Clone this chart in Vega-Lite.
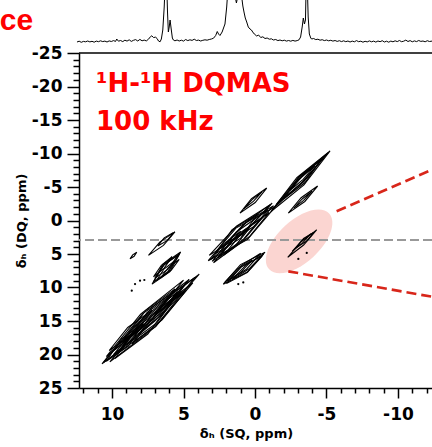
{
  "$schema": "https://vega.github.io/schema/vega-lite/v6.json",
  "autosize": "none",
  "width": 353,
  "height": 335,
  "padding": {"left": 79, "top": 53, "right": 0, "bottom": 59},
  "background": "white",
  "config": {
    "view": {"stroke": null},
    "axis": {
      "domainColor": "black", "domainWidth": 1.5, "tickColor": "black", "tickWidth": 1.5,
      "labelColor": "black", "labelFont": "DejaVu Sans", "labelFontWeight": "bold", "labelFontSize": 17,
      "titleColor": "black", "titleFont": "DejaVu Sans", "titleFontWeight": "bold", "titleFontSize": 13,
      "grid": false, "labelOverlap": false, "labelFlush": false
    }
  },
  "datasets": {
    "ellipse": [{"x": -3.09, "y": 3.11}],
    "hline": [{"y": 2.9}],
    "frame": [{"y": -25}],
    "contours": [
      {"c":"1a","o":0,"x":10.6,"y":21.2},{"c":"1a","o":1,"x":6.95,"y":15.81},{"c":"1a","o":2,"x":4.2,"y":8.5},{"c":"1a","o":3,"x":7.85,"y":13.89},
      {"c":"1b","o":0,"x":10.15,"y":21.1},{"c":"1b","o":1,"x":6.95,"y":15.84},{"c":"1b","o":2,"x":4.35,"y":9.3},{"c":"1b","o":3,"x":7.55,"y":14.56},
      {"c":"1c","o":0,"x":10.4,"y":20.3},{"c":"1c","o":1,"x":7.4,"y":15.24},{"c":"1c","o":2,"x":5.0,"y":8.9},{"c":"1c","o":3,"x":8.0,"y":13.96},
      {"c":"1d","o":0,"x":9.9,"y":20.0},{"c":"1d","o":1,"x":7.45,"y":15.73},{"c":"1d","o":2,"x":5.4,"y":10.6},{"c":"1d","o":3,"x":7.85,"y":14.87},
      {"c":"1e","o":0,"x":9.5,"y":19.4},{"c":"1e","o":1,"x":6.85,"y":15.25},{"c":"1e","o":2,"x":4.9,"y":9.6},{"c":"1e","o":3,"x":7.55,"y":13.75},
      {"c":"1f","o":0,"x":10.0,"y":19.6},{"c":"1f","o":1,"x":7.85,"y":15.82},{"c":"1f","o":2,"x":6.0,"y":11.4},{"c":"1f","o":3,"x":8.15,"y":15.18},
      {"c":"1g","o":0,"x":9.0,"y":18.6},{"c":"1g","o":1,"x":6.95,"y":14.92},{"c":"1g","o":2,"x":5.2,"y":10.6},{"c":"1g","o":3,"x":7.25,"y":14.28},
      {"c":"1h","o":0,"x":9.2,"y":17.8},{"c":"1h","o":1,"x":7.15,"y":14.54},{"c":"1h","o":2,"x":5.6,"y":10.2},{"c":"1h","o":3,"x":7.65,"y":13.46},
      {"c":"1i","o":0,"x":8.6,"y":18.4},{"c":"1i","o":1,"x":6.5,"y":14.83},{"c":"1i","o":2,"x":4.8,"y":10.4},{"c":"1i","o":3,"x":6.9,"y":13.97},
      {"c":"1j","o":0,"x":10.2,"y":19.4},{"c":"1j","o":1,"x":8.5,"y":16.83},{"c":"1j","o":2,"x":7.2,"y":13.4},{"c":"1j","o":3,"x":8.9,"y":15.97},
      {"c":"1k","o":0,"x":6.0,"y":12.2},{"c":"1k","o":1,"x":4.85,"y":10.31},{"c":"1k","o":2,"x":3.9,"y":8.0},{"c":"1k","o":3,"x":5.05,"y":9.89},
      {"c":"1l","o":0,"x":10.7,"y":21.4},{"c":"1l","o":1,"x":9.53,"y":19.46},{"c":"1l","o":2,"x":8.6,"y":17.0},{"c":"1l","o":3,"x":9.77,"y":18.94},
      {"c":"1m","o":0,"x":9.8,"y":20.6},{"c":"1m","o":1,"x":7.5,"y":16.94},{"c":"1m","o":2,"x":5.8,"y":12.0},{"c":"1m","o":3,"x":8.1,"y":15.66},
      {"c":"1n","o":0,"x":9.3,"y":18.2},{"c":"1n","o":1,"x":6.7,"y":14.04},{"c":"1n","o":2,"x":4.6,"y":8.8},{"c":"1n","o":3,"x":7.2,"y":12.96},
      {"c":"1o","o":0,"x":8.2,"y":17.0},{"c":"1o","o":1,"x":6.5,"y":14.01},{"c":"1o","o":2,"x":5.0,"y":10.6},{"c":"1o","o":3,"x":6.7,"y":13.59},
      {"c":"1p","o":0,"x":10.4,"y":21.0},{"c":"1p","o":1,"x":8.85,"y":18.74},{"c":"1p","o":2,"x":7.8,"y":15.4},{"c":"1p","o":3,"x":9.35,"y":17.66},
      {"c":"7a","o":0,"x":7.2,"y":9.5},{"c":"7a","o":1,"x":5.95,"y":7.64},{"c":"7a","o":2,"x":5.2,"y":4.7},{"c":"7a","o":3,"x":6.45,"y":6.56},
      {"c":"7b","o":0,"x":7.0,"y":8.6},{"c":"7b","o":1,"x":6.05,"y":7.22},{"c":"7b","o":2,"x":5.4,"y":5.2},{"c":"7b","o":3,"x":6.35,"y":6.58},
      {"c":"7c","o":0,"x":6.9,"y":9.0},{"c":"7c","o":1,"x":6.13,"y":7.76},{"c":"7c","o":2,"x":5.6,"y":6.0},{"c":"7c","o":3,"x":6.37,"y":7.24},
      {"c":"7d","o":0,"x":7.1,"y":8.4},{"c":"7d","o":1,"x":6.35,"y":7.11},{"c":"7d","o":2,"x":5.8,"y":5.4},{"c":"7d","o":3,"x":6.55,"y":6.69},
      {"c":"7e","o":0,"x":6.6,"y":8.6},{"c":"7e","o":1,"x":5.85,"y":7.41},{"c":"7e","o":2,"x":5.3,"y":5.8},{"c":"7e","o":3,"x":6.05,"y":6.99},
      {"c":"7f","o":0,"x":7.1,"y":9.2},{"c":"7f","o":1,"x":6.0,"y":7.53},{"c":"7f","o":2,"x":5.3,"y":5.0},{"c":"7f","o":3,"x":6.4,"y":6.67},
      {"c":"8a","o":0,"x":7.45,"y":5.2},{"c":"8a","o":1,"x":6.405,"y":3.71},{"c":"8a","o":2,"x":5.6,"y":1.7},{"c":"8a","o":3,"x":6.645,"y":3.19},
      {"c":"8b","o":0,"x":6.8,"y":3.8},{"c":"8b","o":1,"x":6.15,"y":3.01},{"c":"8b","o":2,"x":5.7,"y":1.8},{"c":"8b","o":3,"x":6.35,"y":2.59},
      {"c":"9","o":0,"x":8.74,"y":5.73},{"c":"9","o":1,"x":8.455,"y":5.34},{"c":"9","o":2,"x":8.27,"y":4.74},{"c":"9","o":3,"x":8.555,"y":5.13},
      {"c":"2a","o":0,"x":3.27,"y":6.0},{"c":"2a","o":1,"x":0.535,"y":2.86},{"c":"2a","o":2,"x":-1.4,"y":-2.0},{"c":"2a","o":3,"x":1.335,"y":1.14},
      {"c":"2b","o":0,"x":3.0,"y":6.1},{"c":"2b","o":1,"x":0.8,"y":2.79},{"c":"2b","o":2,"x":-0.9,"y":-1.6},{"c":"2b","o":3,"x":1.3,"y":1.71},
      {"c":"2c","o":0,"x":3.2,"y":5.2},{"c":"2c","o":1,"x":0.8,"y":1.94},{"c":"2c","o":2,"x":-1.1,"y":-2.4},{"c":"2c","o":3,"x":1.3,"y":0.86},
      {"c":"2d","o":0,"x":2.6,"y":5.6},{"c":"2d","o":1,"x":0.8,"y":2.93},{"c":"2d","o":2,"x":-0.6,"y":-0.6},{"c":"2d","o":3,"x":1.2,"y":2.07},
      {"c":"2e","o":0,"x":2.4,"y":4.2},{"c":"2e","o":1,"x":0.45,"y":1.12},{"c":"2e","o":2,"x":-1.2,"y":-2.6},{"c":"2e","o":3,"x":0.75,"y":0.48},
      {"c":"2f","o":0,"x":2.9,"y":6.3},{"c":"2f","o":1,"x":1.5,"y":4.07},{"c":"2f","o":2,"x":0.4,"y":1.2},{"c":"2f","o":3,"x":1.8,"y":3.43},
      {"c":"2g","o":0,"x":1.9,"y":3.2},{"c":"2g","o":1,"x":0.1,"y":0.93},{"c":"2g","o":2,"x":-1.3,"y":-2.2},{"c":"2g","o":3,"x":0.5,"y":0.07},
      {"c":"2h","o":0,"x":3.1,"y":5.8},{"c":"2h","o":1,"x":1.93,"y":3.96},{"c":"2h","o":2,"x":1.0,"y":1.6},{"c":"2h","o":3,"x":2.17,"y":3.44},
      {"c":"2i","o":0,"x":2.8,"y":5.0},{"c":"2i","o":1,"x":1.0,"y":2.64},{"c":"2i","o":2,"x":-0.2,"y":-1.0},{"c":"2i","o":3,"x":1.6,"y":1.36},
      {"c":"2j","o":0,"x":2.2,"y":5.2},{"c":"2j","o":1,"x":0.4,"y":2.43},{"c":"2j","o":2,"x":-1.0,"y":-1.2},{"c":"2j","o":3,"x":0.8,"y":1.57},
      {"c":"3a","o":0,"x":-1.1,"y":-1.3},{"c":"3a","o":1,"x":-3.425,"y":-5.315},{"c":"3a","o":2,"x":-5.25,"y":-10.4},{"c":"3a","o":3,"x":-2.925,"y":-6.385},
      {"c":"3b","o":0,"x":-1.8,"y":-3.0},{"c":"3b","o":1,"x":-3.43,"y":-5.92},{"c":"3b","o":2,"x":-4.8,"y":-9.4},{"c":"3b","o":3,"x":-3.17,"y":-6.48},
      {"c":"3c","o":0,"x":-2.4,"y":-4.4},{"c":"3c","o":1,"x":-3.37,"y":-6.15},{"c":"3c","o":2,"x":-4.2,"y":-8.2},{"c":"3c","o":3,"x":-3.23,"y":-6.45},
      {"c":"3d","o":0,"x":-1.5,"y":-2.4},{"c":"3d","o":1,"x":-3.42,"y":-5.79},{"c":"3d","o":2,"x":-5.0,"y":-9.9},{"c":"3d","o":3,"x":-3.08,"y":-6.51},
      {"c":"3e","o":0,"x":-1.3,"y":-1.8},{"c":"3e","o":1,"x":-3.3,"y":-5.74},{"c":"3e","o":2,"x":-5.1,"y":-10.1},{"c":"3e","o":3,"x":-3.1,"y":-6.16},
      {"c":"3f","o":0,"x":-2.0,"y":-3.2},{"c":"3f","o":1,"x":-3.5,"y":-5.67},{"c":"3f","o":2,"x":-4.6,"y":-9.0},{"c":"3f","o":3,"x":-3.1,"y":-6.53},
      {"c":"4a","o":0,"x":1.05,"y":-1.1},{"c":"4a","o":1,"x":-0.015,"y":-2.69},{"c":"4a","o":2,"x":-0.82,"y":-4.84},{"c":"4a","o":3,"x":0.245,"y":-3.25},
      {"c":"4b","o":0,"x":0.8,"y":-1.7},{"c":"4b","o":1,"x":0.1,"y":-2.89},{"c":"4b","o":2,"x":-0.5,"y":-4.3},{"c":"4b","o":3,"x":0.2,"y":-3.11},
      {"c":"5a","o":0,"x":-2.33,"y":-1.1},{"c":"5a","o":1,"x":-3.485,"y":-2.84},{"c":"5a","o":2,"x":-4.38,"y":-5.14},{"c":"5a","o":3,"x":-3.225,"y":-3.4},
      {"c":"5b","o":0,"x":-2.7,"y":-1.8},{"c":"5b","o":1,"x":-3.4,"y":-2.99},{"c":"5b","o":2,"x":-4.0,"y":-4.4},{"c":"5b","o":3,"x":-3.3,"y":-3.21},
      {"c":"6a","o":0,"x":2.22,"y":9.5},{"c":"6a","o":1,"x":0.51,"y":7.66},{"c":"6a","o":2,"x":-0.7,"y":4.74},{"c":"6a","o":3,"x":1.01,"y":6.58},
      {"c":"6b","o":0,"x":1.9,"y":9.0},{"c":"6b","o":1,"x":0.6,"y":7.27},{"c":"6b","o":2,"x":-0.4,"y":4.9},{"c":"6b","o":3,"x":0.9,"y":6.63},
      {"c":"6c","o":0,"x":1.6,"y":8.8},{"c":"6c","o":1,"x":0.38,"y":7.16},{"c":"6c","o":2,"x":-0.6,"y":5.0},{"c":"6c","o":3,"x":0.62,"y":6.64},
      {"c":"6d","o":0,"x":2.1,"y":9.2},{"c":"6d","o":1,"x":1.03,"y":7.81},{"c":"6d","o":2,"x":0.2,"y":5.9},{"c":"6d","o":3,"x":1.27,"y":7.29},
      {"c":"6e","o":0,"x":2.0,"y":9.4},{"c":"6e","o":1,"x":0.55,"y":7.78},{"c":"6e","o":2,"x":-0.5,"y":5.3},{"c":"6e","o":3,"x":0.95,"y":6.92},
      {"c":"11a","o":0,"x":-2.29,"y":5.49},{"c":"11a","o":1,"x":-3.4,"y":3.66},{"c":"11a","o":2,"x":-4.31,"y":1.4},{"c":"11a","o":3,"x":-3.2,"y":3.23},
      {"c":"11b","o":0,"x":-2.9,"y":4.0},{"c":"11b","o":1,"x":-3.6,"y":3.11},{"c":"11b","o":2,"x":-4.1,"y":1.8},{"c":"11b","o":3,"x":-3.4,"y":2.69},
      {"c":"11c","o":0,"x":-2.6,"y":4.6},{"c":"11c","o":1,"x":-3.3,"y":3.41},{"c":"11c","o":2,"x":-3.9,"y":2.0},{"c":"11c","o":3,"x":-3.2,"y":3.19}
    ],
    "dots": [
      {"x":8.62,"y":10.48},{"x":8.39,"y":9.48},{"x":8.04,"y":8.98},{"x":7.74,"y":8.88},
      {"x":1.17,"y":9.48},{"x":0.82,"y":9.24},{"x":-3.62,"y":4.84},{"x":-3.03,"y":5.74}
    ],
    "guides": [
      {"g":"u","x":-5.71,"y":-1.39},{"g":"u","x":-12.38,"y":-7.59},
      {"g":"l","x":-2.33,"y":7.59},{"g":"l","x":-12.38,"y":11.38}
    ],
    "heading": [
      {"t":"¹H-¹H DQMAS","x":11.12,"y":-19.16},
      {"t":"100 kHz","x":11.12,"y":-13.47}
    ],
    "corner": [{"t":"ce","x":15.52,"y":-28.44}],
    "spectrum": [
      {"x":12.45,"v":0},{"x":12.3,"v":0.8},{"x":12.15,"v":-0.3},{"x":12.0,"v":0.6},{"x":11.85,"v":0.2},{"x":11.7,"v":1.0},
      {"x":11.55,"v":0.1},{"x":11.4,"v":0.7},{"x":11.25,"v":-0.2},{"x":11.1,"v":0.9},{"x":10.95,"v":0.3},{"x":10.8,"v":1.2},
      {"x":10.65,"v":0.4},{"x":10.5,"v":0.9},{"x":10.35,"v":0.0},{"x":10.2,"v":1.1},{"x":10.05,"v":0.5},{"x":9.9,"v":1.4},
      {"x":9.75,"v":0.6},{"x":9.67,"v":3.0},{"x":9.55,"v":0.8},{"x":9.4,"v":1.5},{"x":9.25,"v":0.4},{"x":9.1,"v":1.8},
      {"x":8.95,"v":0.9},{"x":8.8,"v":2.2},{"x":8.65,"v":0.6},{"x":8.5,"v":1.7},{"x":8.35,"v":2.4},{"x":8.2,"v":1.0},
      {"x":8.05,"v":2.6},{"x":7.9,"v":1.2},{"x":7.75,"v":1.9},{"x":7.6,"v":1.1},{"x":7.45,"v":2.8},{"x":7.3,"v":5.5},
      {"x":7.22,"v":6.2},{"x":7.1,"v":4.5},{"x":6.95,"v":4.8},{"x":6.85,"v":3.5},{"x":6.75,"v":1.0},{"x":6.64,"v":0.2},
      {"x":6.55,"v":3},{"x":6.45,"v":12},{"x":6.35,"v":35},{"x":6.22,"v":80},{"x":6.12,"v":30},{"x":6.06,"v":10},
      {"x":6.0,"v":15},{"x":5.94,"v":22},{"x":5.87,"v":14},{"x":5.78,"v":4},{"x":5.71,"v":2},{"x":5.6,"v":1.2},
      {"x":5.45,"v":2.0},{"x":5.3,"v":1.0},{"x":5.15,"v":1.8},{"x":5.0,"v":0.9},{"x":4.85,"v":2.5},{"x":4.7,"v":1.4},
      {"x":4.55,"v":2.2},{"x":4.4,"v":1.6},{"x":4.25,"v":2.8},{"x":4.1,"v":1.5},{"x":3.95,"v":1.9},{"x":3.8,"v":1.0},
      {"x":3.65,"v":1.7},{"x":3.5,"v":2.2},{"x":3.35,"v":1.8},{"x":3.2,"v":2.5},{"x":3.05,"v":3.0},{"x":2.9,"v":3.8},
      {"x":2.75,"v":6.5},{"x":2.64,"v":10.5},{"x":2.55,"v":8},{"x":2.45,"v":6.5},{"x":2.3,"v":10},{"x":2.2,"v":14},
      {"x":2.1,"v":18},{"x":1.98,"v":35},{"x":1.86,"v":60},{"x":1.7,"v":80},{"x":1.55,"v":65},{"x":1.42,"v":48},
      {"x":1.3,"v":39},{"x":1.2,"v":46},{"x":1.05,"v":62},{"x":0.93,"v":45},{"x":0.85,"v":36},{"x":0.77,"v":30},
      {"x":0.68,"v":24},{"x":0.58,"v":20},{"x":0.47,"v":15},{"x":0.35,"v":13},{"x":0.25,"v":12},{"x":0.16,"v":10},
      {"x":0.05,"v":8},{"x":-0.12,"v":6},{"x":-0.25,"v":7},{"x":-0.4,"v":4.5},{"x":-0.55,"v":5.2},{"x":-0.7,"v":3.5},
      {"x":-0.85,"v":4},{"x":-1.0,"v":2.8},{"x":-1.15,"v":3.2},{"x":-1.28,"v":2.0},{"x":-1.45,"v":2.5},{"x":-1.6,"v":1.4},
      {"x":-1.75,"v":2.0},{"x":-1.9,"v":1.2},{"x":-2.05,"v":1.8},{"x":-2.2,"v":0.9},{"x":-2.35,"v":1.5},{"x":-2.5,"v":0.8},
      {"x":-2.65,"v":1.6},{"x":-2.8,"v":0.9},{"x":-2.95,"v":1.4},{"x":-3.08,"v":2.2},{"x":-3.19,"v":5},{"x":-3.3,"v":15},
      {"x":-3.38,"v":24},{"x":-3.46,"v":18},{"x":-3.53,"v":22},{"x":-3.61,"v":80},{"x":-3.72,"v":25},{"x":-3.8,"v":8},
      {"x":-3.9,"v":4},{"x":-3.96,"v":3.0},{"x":-4.1,"v":3.5},{"x":-4.25,"v":2.4},{"x":-4.4,"v":2.8},{"x":-4.55,"v":1.8},
      {"x":-4.7,"v":2.3},{"x":-4.85,"v":1.4},{"x":-5.0,"v":2.0},{"x":-5.15,"v":1.2},{"x":-5.3,"v":1.7},{"x":-5.45,"v":0.9},
      {"x":-5.6,"v":1.5},{"x":-5.75,"v":0.6},{"x":-5.9,"v":1.3},{"x":-6.05,"v":0.4},{"x":-6.2,"v":1.2},{"x":-6.35,"v":0.3},
      {"x":-6.5,"v":1.0},{"x":-6.65,"v":0.0},{"x":-6.8,"v":0.9},{"x":-6.95,"v":0.2},{"x":-7.1,"v":1.4},{"x":-7.25,"v":0.3},
      {"x":-7.4,"v":0.8},{"x":-7.55,"v":-0.2},{"x":-7.7,"v":0.7},{"x":-7.85,"v":0.1},{"x":-8.0,"v":1.1},{"x":-8.15,"v":0.2},
      {"x":-8.3,"v":0.9},{"x":-8.45,"v":-0.1},{"x":-8.6,"v":1.0},{"x":-8.75,"v":0.3},{"x":-8.9,"v":1.3},{"x":-9.05,"v":0.0},
      {"x":-9.2,"v":0.8},{"x":-9.35,"v":-0.2},{"x":-9.5,"v":0.9},{"x":-9.65,"v":0.2},{"x":-9.8,"v":1.2},{"x":-9.95,"v":0.4},
      {"x":-10.1,"v":1.5},{"x":-10.25,"v":0.3},{"x":-10.4,"v":0.8},{"x":-10.55,"v":1.9},{"x":-10.7,"v":0.5},{"x":-10.85,"v":1.4},
      {"x":-11.0,"v":0.2},{"x":-11.15,"v":1.1},{"x":-11.3,"v":0.4},{"x":-11.45,"v":1.5},{"x":-11.6,"v":0.6},{"x":-11.75,"v":1.0},
      {"x":-11.9,"v":0.2},{"x":-12.05,"v":1.3},{"x":-12.2,"v":0.5},{"x":-12.38,"v":0.9}
    ]
  },
  "layer": [
    {
      "layer": [
        {
          "data": {"name": "ellipse"},
          "mark": {"type": "point", "shape": "M -1 0 A 1 0.512 0 1 1 1 0 A 1 0.512 0 1 1 -1 0 Z", "size": 6724, "angle": 317, "filled": true, "color": "#fbd5d1", "opacity": 1, "strokeWidth": 0},
          "encoding": {
            "x": {"field": "x", "type": "quantitative", "scale": {"domain": [-12.38, 12.31], "reverse": true, "nice": false, "zero": false},
              "axis": {
                "orient": "bottom",
                "values": [-10, -5, 0, 5, 10],
                "labelExpr": "'' + datum.value",
                "tickSize": 10,
                "labelPadding": 8,
                "title": "δₕ (SQ, ppm)",
                "titlePadding": 5,
                "titleX": 167
              }
            },
            "y": {"field": "y", "type": "quantitative", "scale": {"domain": [-25, 25], "reverse": true, "nice": false, "zero": false},
              "axis": {
                "orient": "left",
                "values": [-25, -20, -15, -10, -5, 0, 5, 10, 15, 20, 25],
                "labelExpr": "'' + datum.value",
                "tickSize": 12,
                "labelPadding": 5,
                "title": "δₕ (DQ, ppm)",
                "titlePadding": 3
              }
            }
          }
        },
        {
          "data": {"name": "hline"},
          "mark": {"type": "rule", "color": "#999999", "strokeWidth": 2, "strokeDash": [9, 4]},
          "encoding": {
            "y": {"field": "y", "type": "quantitative", "scale": {"domain": [-25, 25], "reverse": true, "nice": false, "zero": false}, "axis": null}
          }
        },
        {
          "data": {"name": "frame"},
          "mark": {"type": "rule", "color": "black", "strokeWidth": 1.5},
          "encoding": {
            "y": {"field": "y", "type": "quantitative", "scale": {"domain": [-25, 25], "reverse": true, "nice": false, "zero": false}, "axis": null}
          }
        },
        {
          "data": {"name": "contours"},
          "mark": {"type": "line", "interpolate": "linear-closed", "color": "black", "strokeWidth": 1.1},
          "encoding": {
            "x": {"field": "x", "type": "quantitative", "scale": {"domain": [-12.38, 12.31], "reverse": true, "nice": false, "zero": false},
              "axis": {
                "orient": "bottom",
                "values": [-12,-11,-9,-8,-7,-6,-4,-3,-2,-1,1,2,3,4,6,7,8,9,11,12],
                "labels": false, "domain": false, "tickSize": 5, "title": null
              }
            },
            "y": {"field": "y", "type": "quantitative", "scale": {"domain": [-25, 25], "reverse": true, "nice": false, "zero": false},
              "axis": {
                "orient": "left",
                "values": [-24,-23,-22,-21,-19,-18,-17,-16,-14,-13,-12,-11,-9,-8,-7,-6,-4,-3,-2,-1,1,2,3,4,6,7,8,9,11,12,13,14,16,17,18,19,21,22,23,24],
                "labels": false, "domain": false, "tickSize": 6, "title": null
              }
            },
            "detail": {"field": "c", "type": "nominal"},
            "order": {"field": "o", "type": "quantitative"}
          }
        },
        {
          "data": {"name": "dots"},
          "mark": {"type": "point", "filled": true, "color": "black", "size": 5, "opacity": 1},
          "encoding": {
            "x": {"field": "x", "type": "quantitative", "scale": {"domain": [-12.38, 12.31], "reverse": true, "nice": false, "zero": false}, "axis": null},
            "y": {"field": "y", "type": "quantitative", "scale": {"domain": [-25, 25], "reverse": true, "nice": false, "zero": false}, "axis": null}
          }
        },
        {
          "data": {"name": "guides"},
          "mark": {"type": "line", "color": "#d8261a", "strokeWidth": 2.6, "strokeDash": [10, 5]},
          "encoding": {
            "x": {"field": "x", "type": "quantitative", "scale": {"domain": [-12.38, 12.31], "reverse": true, "nice": false, "zero": false}, "axis": null},
            "y": {"field": "y", "type": "quantitative", "scale": {"domain": [-25, 25], "reverse": true, "nice": false, "zero": false}, "axis": null},
            "detail": {"field": "g", "type": "nominal"}
          }
        },
        {
          "data": {"name": "heading"},
          "mark": {"type": "text", "align": "left", "baseline": "alphabetic", "font": "DejaVu Sans", "fontWeight": "bold", "fontSize": 26, "color": "#ff0000"},
          "encoding": {
            "x": {"field": "x", "type": "quantitative", "scale": {"domain": [-12.38, 12.31], "reverse": true, "nice": false, "zero": false}, "axis": null},
            "y": {"field": "y", "type": "quantitative", "scale": {"domain": [-25, 25], "reverse": true, "nice": false, "zero": false}, "axis": null},
            "text": {"field": "t"}
          }
        },
        {
          "data": {"name": "corner"},
          "mark": {"type": "text", "align": "right", "baseline": "alphabetic", "font": "Liberation Sans", "fontWeight": "bold", "fontSize": 30, "color": "#ff0000"},
          "encoding": {
            "x": {"field": "x", "type": "quantitative", "scale": {"domain": [-12.38, 12.31], "reverse": true, "nice": false, "zero": false}, "axis": null},
            "y": {"field": "y", "type": "quantitative", "scale": {"domain": [-25, 25], "reverse": true, "nice": false, "zero": false}, "axis": null},
            "text": {"field": "t"}
          }
        }
      ],
      "resolve": {"axis": {"x": "independent", "y": "independent"}}
    },
    {
      "data": {"name": "spectrum"},
      "mark": {"type": "line", "color": "black", "strokeWidth": 1},
      "encoding": {
        "x": {"field": "x", "type": "quantitative", "scale": {"domain": [-12.38, 12.31], "reverse": true, "nice": false, "zero": false}, "axis": null},
        "y": {"field": "v", "type": "quantitative", "scale": {"domain": [-346, -11], "nice": false, "zero": false}, "axis": null}
      }
    }
  ],
  "resolve": {"scale": {"y": "independent"}}
}
